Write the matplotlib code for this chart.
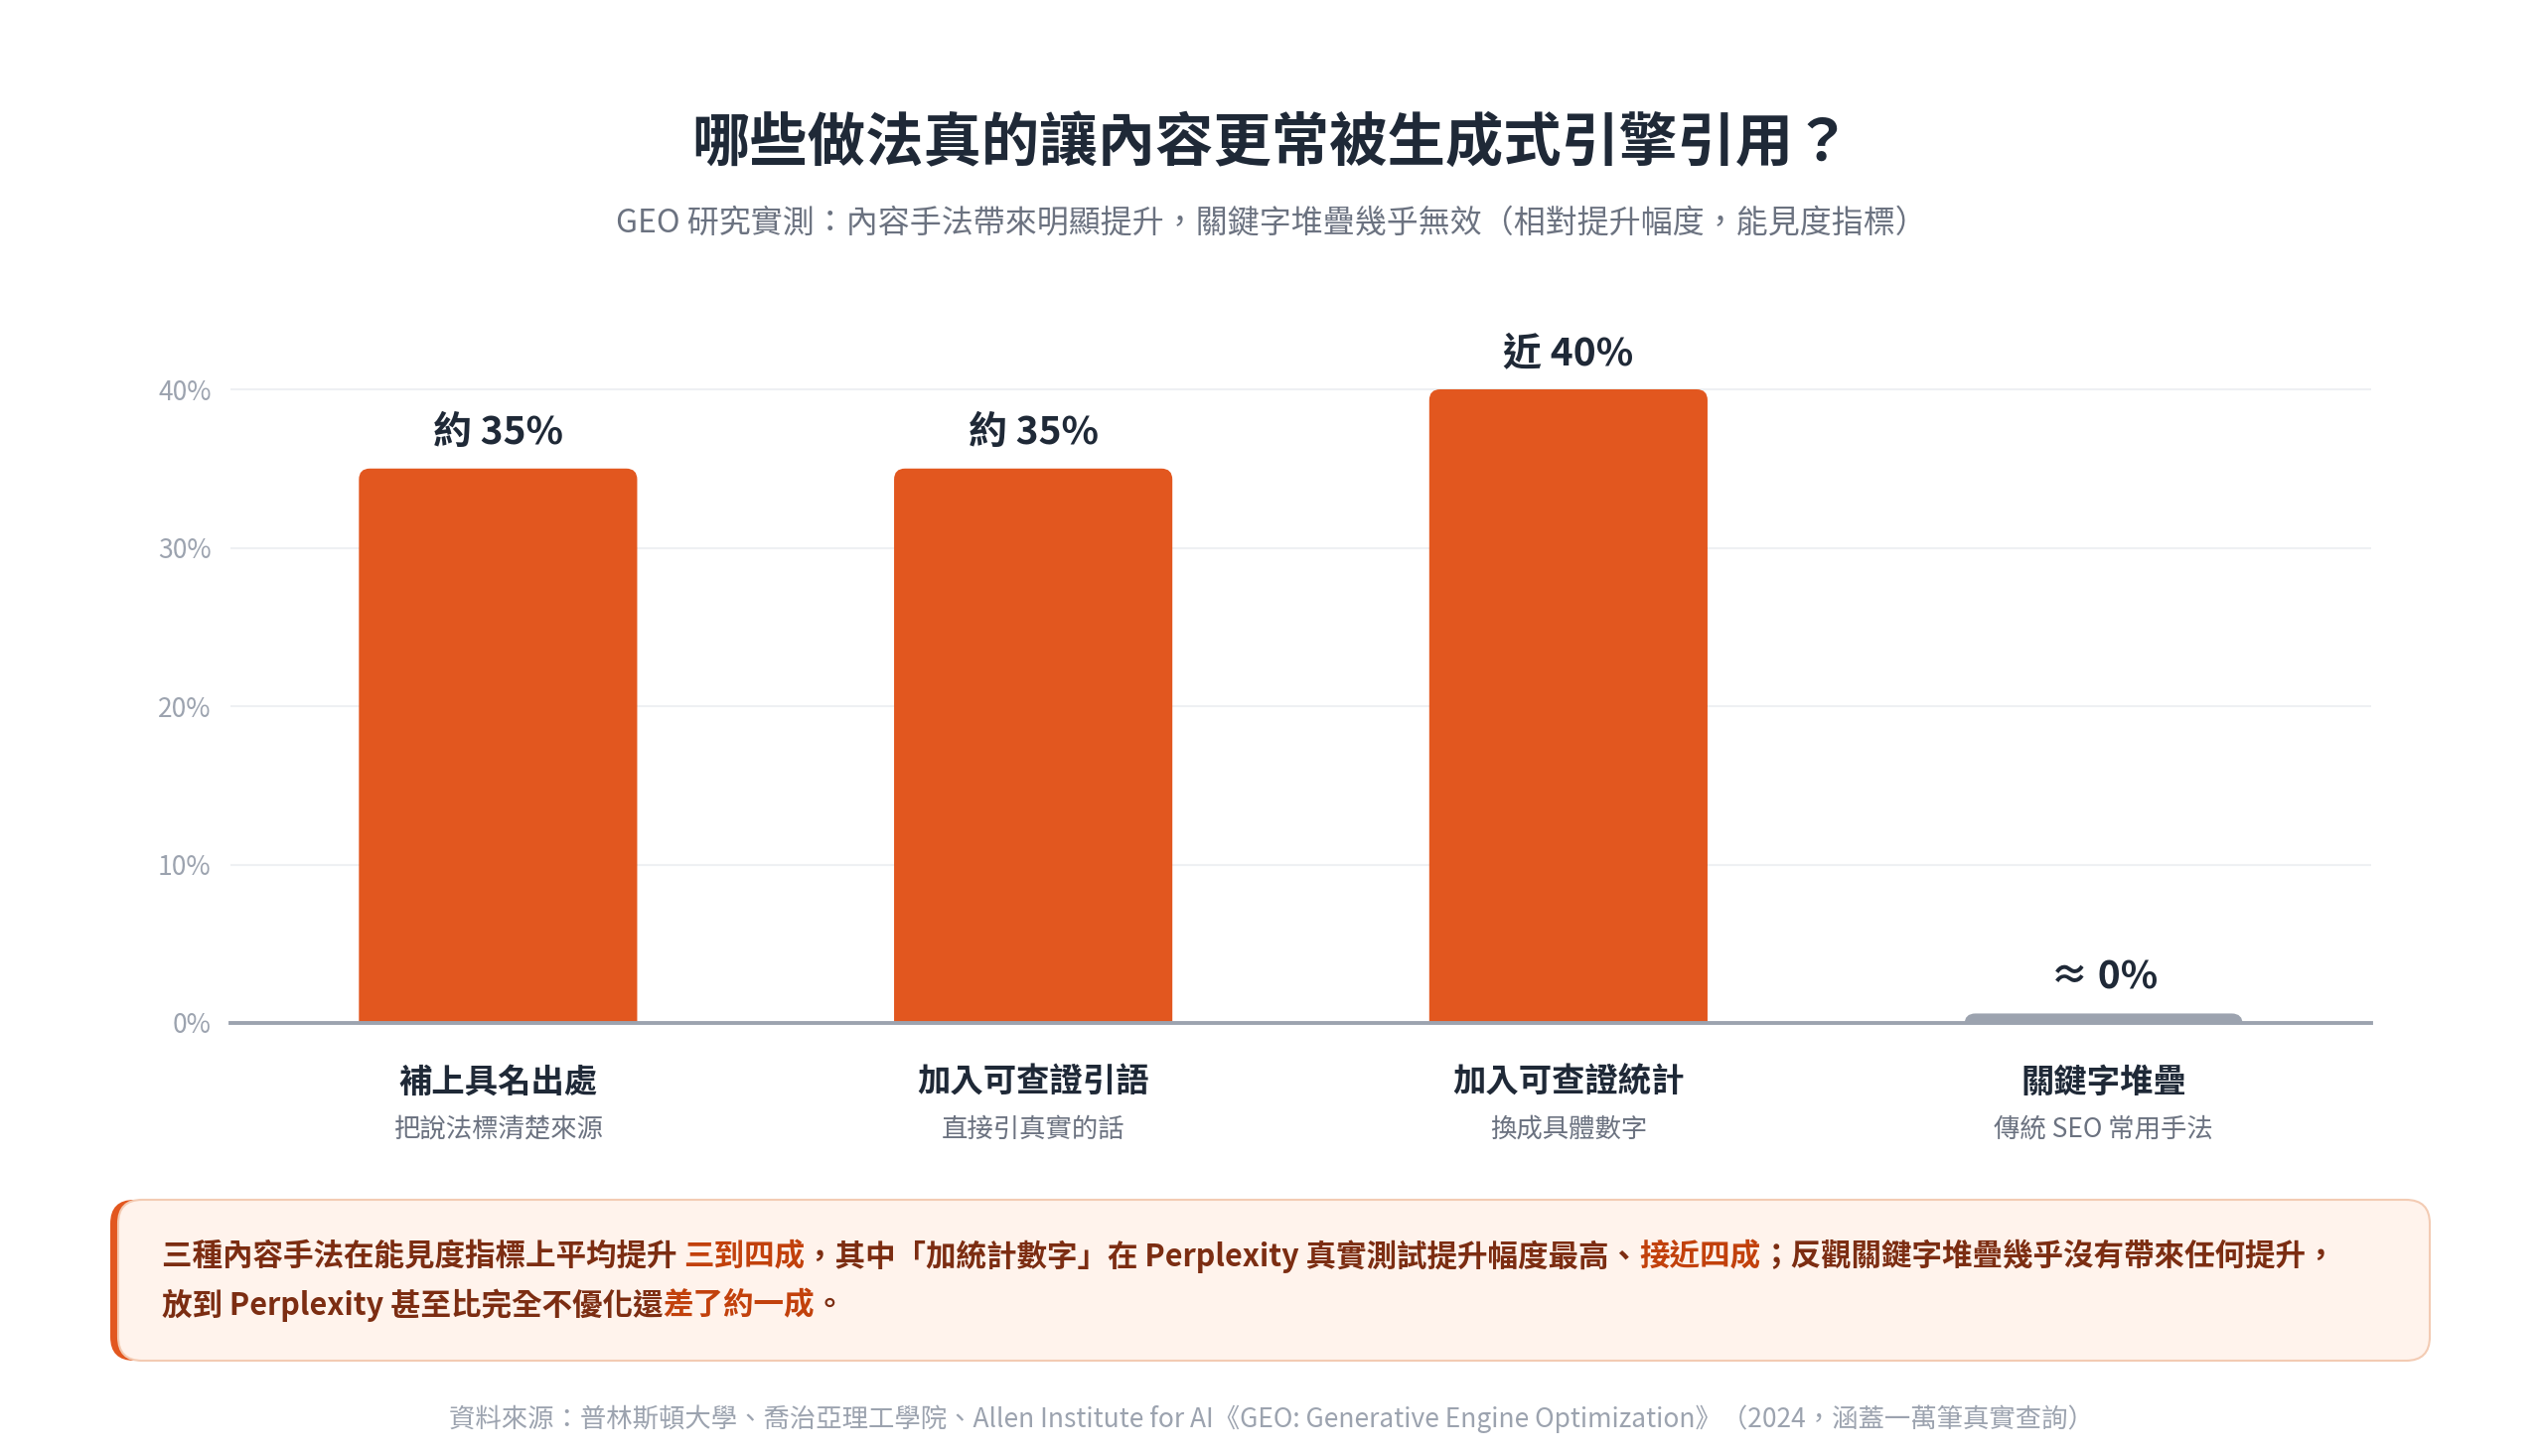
import matplotlib
matplotlib.use("Agg")
import matplotlib.pyplot as plt
from matplotlib.patches import FancyBboxPatch
import matplotlib.transforms as mtransforms

plt.rcParams['font.family'] = ['Noto Sans CJK TC', 'DejaVu Sans']

# ---------------- data ----------------
categories = ["補上具名出處", "加入可查證引語", "加入可查證統計", "關鍵字堆疊"]
sublabels = ["把說法標清楚來源", "直接引真實的話", "換成具體數字", "傳統 SEO 常用手法"]
values = [35, 35, 40, 0.6]
value_labels = ["約 35%", "約 35%", "近 40%", "≈ 0%"]
bar_colors = ["#e2571f", "#e2571f", "#e2571f", "#9ca3af"]
yticks = [0, 10, 20, 30, 40]

title = "哪些做法真的讓內容更常被生成式引擎引用？"
subtitle = "GEO 研究實測：內容手法帶來明顯提升，關鍵字堆疊幾乎無效（相對提升幅度，能見度指標）"
note_line1 = [("三種內容手法在能見度指標上平均提升 ", False), ("三到四成", True),
              ("，其中「加統計數字」在 Perplexity 真實測試提升幅度最高、", False),
              ("接近四成", True), ("；反觀關鍵字堆疊幾乎沒有帶來任何提升，", False)]
note_line2 = [("放到 Perplexity 甚至比完全不優化還", False), ("差了約一成", True), ("。", False)]
footer = "資料來源：普林斯頓大學、喬治亞理工學院、Allen Institute for AI《GEO: Generative Engine Optimization》（2024，涵蓋一萬筆真實查詢）"

W, H = 2560, 1466
DPI = 100
fig = plt.figure(figsize=(W / DPI, H / DPI), dpi=DPI, facecolor="white")

# ---------------- main axes ----------------
ax_left, ax_right = 232 / W, 2387 / W
y0_px, y40_px = 1030, 392
ytop = 42
px_per_unit = (y0_px - y40_px) / 40.0
ax_bottom = 1 - y0_px / H
ax_height = (ytop * px_per_unit) / H
ax = fig.add_axes([ax_left, ax_bottom, ax_right - ax_left, ax_height])
ax.set_xlim(-0.5, 3.5)
ax.set_ylim(0, ytop)
for s in ax.spines.values():
    s.set_visible(False)
ax.set_yticks(yticks)
ax.set_yticklabels([f"{t}%" for t in yticks])
ax.tick_params(axis="y", length=0, pad=14, labelsize=19, labelcolor="#9ca3af")
ax.tick_params(axis="x", length=0, labelbottom=False)
ax.set_xticks([])
ax.yaxis.grid(True, color="#eef0f3", lw=1.5)
ax.set_axisbelow(True)

xs = list(range(len(categories)))
bars = ax.bar(xs, values, width=0.52, color=bar_colors)

ax_w_px = (ax_right - ax_left) * W
px_per_x = ax_w_px / 4.0
r_px = 11
r_x = r_px / px_per_x
r_y = r_px / px_per_unit
ext = 1.2
for rect, c in zip(bars.patches, bar_colors):
    x, w, h = rect.get_x(), rect.get_width(), rect.get_height()
    rect.remove()
    p = FancyBboxPatch((x, -ext), w, h + ext,
                       boxstyle=f"round,pad=0,rounding_size={r_x}",
                       mutation_aspect=r_y / r_x, facecolor=c, edgecolor="none",
                       zorder=3)
    ax.add_patch(p)

ax.axhline(0, color="#9ca3af", lw=2.8, zorder=5, clip_on=False)

for x, v, lab in zip(xs, values, value_labels):
    ax.annotate(lab, xy=(x, v), xytext=(0, 26), textcoords="offset points",
                ha="center", va="center", fontsize=28, fontweight="semibold",
                color="#1f2937", annotation_clip=False)

trans = mtransforms.blended_transform_factory(ax.transData, fig.transFigure)
for x, c, s in zip(xs, categories, sublabels):
    ax.text(x, 1 - 1090 / H, c, transform=trans, ha="center", va="center",
            fontsize=24, fontweight="bold", color="#1f2937")
    ax.text(x, 1 - 1137 / H, s, transform=trans, ha="center", va="center",
            fontsize=19, color="#6b7280")

# ---------------- titles ----------------
fig.text(0.5, 1 - 145 / H, title, ha="center", va="center", fontsize=42,
         fontweight="bold", color="#1f2937")
fig.text(0.5, 1 - 224 / H, subtitle, ha="center", va="center", fontsize=23,
         color="#6b7280")

# ---------------- note box ----------------
ov = fig.add_axes([0, 0, 1, 1], facecolor="none")
ov.set_xlim(0, W)
ov.set_ylim(H, 0)
ov.axis("off")
bx0, bx1, by0, by1 = 111, 2446, 1208, 1370
rad = 24
outer = FancyBboxPatch((bx0, by0), (bx1 - bx0) - 60, by1 - by0,
                       boxstyle=f"round,pad=0,rounding_size={rad}",
                       facecolor="#e2571f", edgecolor="none", zorder=1)
ov.add_patch(outer)
inner = FancyBboxPatch((bx0 + 8, by0), (bx1 - bx0) - 8, by1 - by0,
                       boxstyle=f"round,pad=0,rounding_size={rad}",
                       facecolor="#fff3ec", edgecolor="#f3cbb3", lw=1.5, zorder=2)
ov.add_patch(inner)

fig.canvas.draw()
renderer = fig.canvas.get_renderer()


def draw_line(segments, x_px, y_px):
    x = x_px
    for txt, hi in segments:
        t = ov.text(x, y_px, txt, ha="left", va="center", fontsize=22,
                    fontweight="semibold", color="#c2410c" if hi else "#7c2d12",
                    zorder=3)
        bb = t.get_window_extent(renderer)
        x += bb.width


draw_line(note_line1, 163, 1265)
draw_line(note_line2, 163, 1314)

fig.text(0.5, 1 - 1429 / H, footer, ha="center", va="center", fontsize=19,
         color="#9ca3af")

fig.savefig("out.png", dpi=DPI, facecolor="white")
